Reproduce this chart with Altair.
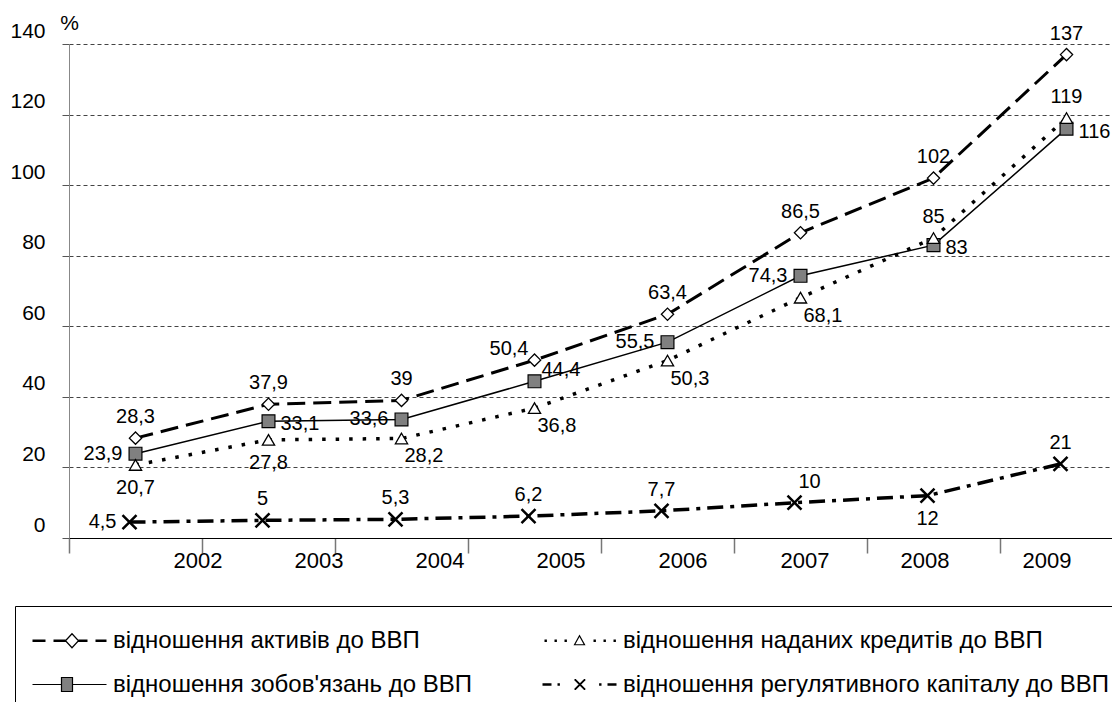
import altair as alt
import pandas as pd

# ---------------- data ----------------
years = ["2002", "2003", "2004", "2005", "2006", "2007", "2008", "2009"]
assets = [28.3, 37.9, 39, 50.4, 63.4, 86.5, 102, 137]
liabilities = [23.9, 33.1, 33.6, 44.4, 55.5, 74.3, 83, 116]
credits = [20.7, 27.8, 28.2, 36.8, 50.3, 68.1, 85, 119]
capital = [4.5, 5, 5.3, 6.2, 7.7, 10, 12, 21]

name_assets = "відношення активів до ВВП"
name_credits = "відношення наданих кредитів до ВВП"
name_liab = "відношення зобов'язань до ВВП"
name_capital = "відношення регулятивного капіталу до ВВП"
legend_order = [name_assets, name_credits, name_liab, name_capital]
y_ticks = [0, 20, 40, 60, 80, 100, 120, 140]

rows = []
for nm, vals in [(name_assets, assets), (name_liab, liabilities),
                 (name_credits, credits), (name_capital, capital)]:
    for yr, v in zip(years, vals):
        rows.append({"year": yr, "series": nm, "value": v})
df = pd.DataFrame(rows)

# ---------------- styles ----------------
FONT = "Liberation Sans, Arial, sans-serif"

x_label_shift = [62, 50, 38, 26, 15, 4, -9, -20]
x_label_offset = {
    "condition": [{"test": f"datum.value === '{y}'", "value": s}
                  for y, s in zip(years, x_label_shift)],
    "value": 0,
}

x_axis = alt.Axis(title=None, tickBand="extent", tickSize=15, tickColor="#777777",
                  tickWidth=1.5, domainColor="black", domainWidth=1.2, grid=False,
                  labelFont=FONT, labelFontSize=22, labelColor="black", labelAngle=0,
                  labelBaseline="middle", labelPadding=7, labelOffset=x_label_offset)
y_axis = alt.Axis(values=y_ticks, grid=True, gridDash=[4, 3], gridColor="#444444",
                  gridWidth=1, domainColor="#888888", domainWidth=1, tickColor="#555555",
                  tickSize=7, labelFont=FONT, labelFontSize=21, labelColor="black",
                  labelPadding=17, labelOffset=-13, title="%", titleAngle=0, titleX=0,
                  titleY=-21, titleFont=FONT, titleFontSize=21, titleFontWeight="normal",
                  titleAlign="center", titleBaseline="middle", titleColor="black")

X = alt.X("year:N", sort=years,
          scale=alt.Scale(type="band", domain=years, range=[0, 1064],
                          paddingInner=0, paddingOuter=0),
          axis=x_axis)
Y = alt.Y("value:Q", scale=alt.Scale(domain=[0, 140], nice=False, zero=True), axis=y_axis)

PLACE = {
    "above": dict(align="center", dx=0, dy=-21),
    "below": dict(align="center", dx=0, dy=23),
    "left": dict(align="right", dx=-13, dy=0),
    "right": dict(align="left", dx=12, dy=3),
    "upleft": dict(align="right", dx=-6, dy=-11),
    "upright": dict(align="left", dx=7, dy=-11),
    "aboveright": dict(align="left", dx=4, dy=-21),
    "downright": dict(align="left", dx=3, dy=18),
}

XPATH = "M-1,-1L1,1M-1,1L1,-1"

SERIES = [
    dict(name=name_assets,
         line=dict(strokeDash=[18, 8], strokeWidth=3),
         point=dict(shape="diamond", fill="white", size=150, strokeWidth=1.3),
         xoff=0,
         pos=["above", "above", "above", "upleft", "above", "above", "above", "above"]),
    dict(name=name_liab,
         line=dict(strokeWidth=1.5),
         point=dict(shape="square", fill="#808080", size=165, strokeWidth=1.2),
         xoff=0,
         pos=["left", "right", "left", "upright", "left", "left", "right", "right"]),
    dict(name=name_credits,
         line=dict(strokeDash=[3.5, 10], strokeWidth=3.5),
         point=dict(shape="triangle-up", fill="white", size=150, strokeWidth=1.3),
         xoff=0,
         pos=["below", "below", "downright", "downright", "downright", "downright",
              "above", "above"]),
    dict(name=name_capital,
         line=dict(strokeDash=[16, 7, 4, 7], strokeWidth=3.5),
         point=dict(shape=XPATH, fill="transparent", size=196, strokeWidth=2.5),
         xoff=-6,
         pos=["left", "above", "above", "above", "above", "aboveright", "below", "above"]),
]

lines, points, texts = [], [], []
for s in SERIES:
    base = alt.Chart(df).transform_filter(alt.datum.series == s["name"])
    lines.append(base.mark_line(color="black", xOffset=s["xoff"], **s["line"]).encode(x=X, y=Y))
    p = s["point"]
    points.append(base.mark_point(shape=p["shape"], filled=True, fill=p["fill"],
                                  stroke="black", strokeWidth=p["strokeWidth"],
                                  size=p["size"], opacity=1, xOffset=s["xoff"])
                  .encode(x=X, y=Y))
    for key in sorted(set(s["pos"])):
        yrs = [y for y, k in zip(years, s["pos"]) if k == key]
        st = PLACE[key]
        texts.append(
            base.transform_filter(alt.FieldOneOfPredicate(field="year", oneOf=yrs))
            .transform_calculate(label="replace(toString(datum.value), '.', ',')")
            .mark_text(font=FONT, fontSize=20, color="black", baseline="middle",
                       xOffset=s["xoff"], **st)
            .encode(x=X, y=Y, text="label:N")
        )

# ---------------- legend (native legend with composite symbols) ----------------
SYM_SIZE = 1076.0          # sqrt = 32.8 -> entry height 34
U = (SYM_SIZE ** 0.5) / 2  # px per path unit
P0 = -17                   # path start relative to symbol centre (px)


def fmt(v):
    return f"{(v + P0) / U:.4f}"


def fy(v):
    return f"{v / U:.4f}"


def thick(a, b):
    return f"M{fmt(a)},{fy(-0.6)}H{fmt(b)}M{fmt(a)},{fy(0.6)}H{fmt(b)}"


path_assets = (thick(0, 13) + thick(21, 33) + thick(46, 55) + thick(63, 74)
               + f"M{fmt(33)},0L{fmt(39.5)},{fy(-7)}L{fmt(46)},0L{fmt(39.5)},{fy(7)}Z")
path_liab = (f"M{fmt(0)},0H{fmt(29)}M{fmt(40)},0H{fmt(74)}"
             + f"M{fmt(29)},{fy(-7)}H{fmt(40)}V{fy(7)}H{fmt(29)}Z")
path_credits = ("".join(thick(a, a + 2.4) for a in [2, 12, 22, 51, 61, 71])
                + f"M{fmt(32)},{fy(4)}L{fmt(37)},{fy(-5)}L{fmt(42)},{fy(4)}Z")
path_capital = (thick(0, 9) + thick(15, 17.4) + thick(56.6, 59) + thick(65, 74)
                + f"M{fmt(32)},{fy(-5)}L{fmt(42)},{fy(5)}M{fmt(32)},{fy(5)}L{fmt(42)},{fy(-5)}"
                + f"M{fmt(32.8)},{fy(-5)}L{fmt(42.8)},{fy(5)}M{fmt(32.8)},{fy(5)}L{fmt(42.8)},{fy(-5)}")

legend_paths = [path_assets, path_credits, path_liab, path_capital]
legend_fills = ["white", "white", "#808080", "white"]
legend_strokes = ["black", "black", "black", "black"]

leg = alt.Legend(title=None, orient="none", legendX=-54, legendY=562, columns=2,
                 direction="horizontal", strokeColor="black", padding=17,
                 labelFont=FONT, labelFontSize=24, labelColor="black", labelLimit=1000,
                 labelOffset=46, rowPadding=14, columnPadding=67,
                 symbolSize=SYM_SIZE, symbolStrokeColor="black", symbolStrokeWidth=1.2,
                 symbolOpacity=1)

legend_layer = alt.Chart(df).mark_point(filled=True, opacity=0, size=SYM_SIZE,
                                         strokeWidth=1.2).encode(
    x=X, y=Y,
    shape=alt.Shape("series:N", scale=alt.Scale(domain=legend_order, range=legend_paths),
                    legend=leg),
    fill=alt.Fill("series:N", scale=alt.Scale(domain=legend_order, range=legend_fills),
                  legend=leg),
    stroke=alt.Stroke("series:N", scale=alt.Scale(domain=legend_order, range=legend_strokes),
                      legend=leg),
)

chart = alt.layer(*lines, *points, *texts, legend_layer).properties(
    width=1043, height=494,
    padding={"left": 61, "top": 36, "right": 0, "bottom": 164},
    autosize=alt.AutoSizeParams(type="none"),
).configure_view(stroke=None)

chart.save("out.html", embed_options={"renderer": "svg", "actions": False})
